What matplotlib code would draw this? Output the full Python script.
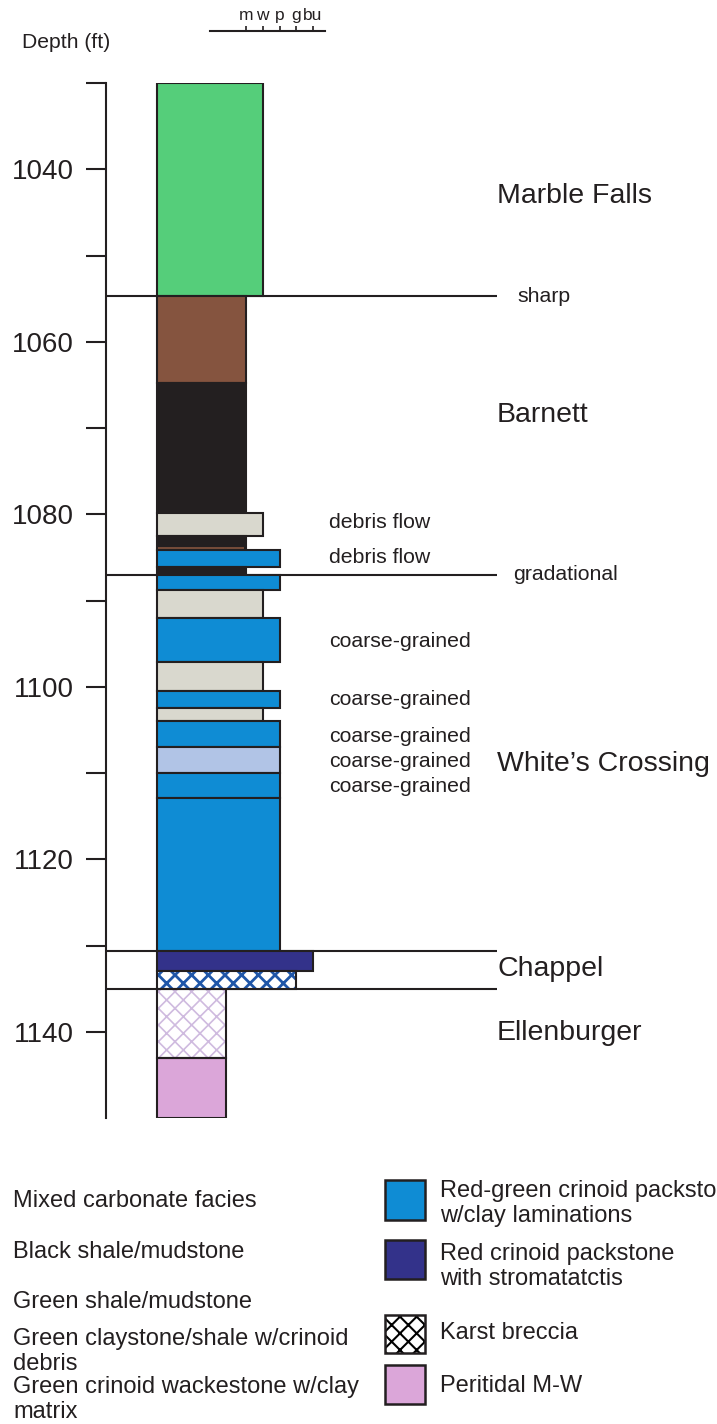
import matplotlib
matplotlib.use("Agg")
import matplotlib.pyplot as plt
from matplotlib.patches import Rectangle
from matplotlib.ticker import FixedLocator

plt.rcParams['font.family'] = ['Liberation Sans', 'DejaVu Sans']
plt.rcParams['hatch.linewidth'] = 1.5

INK = '#231F20'

# ---- data read off the section ----
# bed tops (ft); each bed runs down to the next top, last one to 1150
bed_top = [1030.0, 1054.7, 1064.8, 1079.9, 1082.5, 1084.2, 1086.1, 1087.0,
           1088.8, 1092.0, 1097.1, 1100.5, 1102.5, 1104.0, 1107.0, 1110.0,
           1112.9, 1130.6, 1132.9, 1135.0, 1143.0]
section_base = 1150.0
bed_facies = ['green', 'brown', 'black', 'claystone', 'black', 'packstone',
              'black', 'packstone', 'claystone', 'packstone', 'claystone',
              'packstone', 'claystone', 'packstone', 'wackestone', 'packstone',
              'packstone', 'red_pack', 'karst', 'ellen', 'peritidal']
# grain size (m=1, w=2, p=3, g=4, bu=5)
bed_grain = [2, 1, 1, 2, 1, 3, 1, 3, 2, 3, 2, 3, 2, 3, 3, 3, 3, 5, 4, -0.2, -0.2]

# thin brown seam inside the black shale
seam_depth = [1083.9]
seam_grain = [0.9]

grain_ticks = [1, 2, 3, 4, 5]
grain_labels = ['m', 'w', 'p', 'g', 'bu']

contact_depth = [1054.7, 1087.0, 1130.6, 1135.0]
contact_label = ['sharp', 'gradational', '', '']

formations = ['Marble Falls', 'Barnett', 'White\u2019s Crossing', 'Chappel', 'Ellenburger']
formation_depth = [1043.1, 1068.5, 1109.0, 1132.7, 1140.2]

notes = ['debris flow', 'debris flow', 'coarse-grained', 'coarse-grained',
         'coarse-grained', 'coarse-grained', 'coarse-grained']
note_depth = [1080.9, 1085.0, 1094.7, 1101.5, 1105.8, 1108.7, 1111.6]

legend_left = ['Mixed carbonate facies', 'Black shale/mudstone', 'Green shale/mudstone',
               'Green claystone/shale w/crinoid\ndebris',
               'Green crinoid wackestone w/clay\nmatrix']
legend_right = ['Red-green crinoid packstone\nw/clay laminations',
                'Red crinoid packstone\nwith stromatatctis',
                'Karst breccia', 'Peritidal M-W']
legend_right_facies = ['packstone', 'red_pack', 'karst_key', 'peritidal']

# facies -> (face, hatch, hatch colour, hatch width)
facies_style = {
    'green': ('#55CE7A', None, None, 0),
    'brown': ('#85543F', None, None, 0),
    'black': ('#231F20', None, None, 0),
    'claystone': ('#D9D8CE', None, None, 0),
    'packstone': ('#0F8CD4', None, None, 0),
    'wackestone': ('#B1C4E6', None, None, 0),
    'red_pack': ('#33328A', None, None, 0),
    'karst': ('white', 'xx', '#1F56A8', 2.0),
    'karst_key': ('white', 'xx', '#000000', 1.5),
    'ellen': ('white', 'xx', '#CFBBDF', 1.2),
    'peritidal': ('#DBA6D9', None, None, 0),
}

# ---- layout (pixels of the 717x1424 figure) ----
W, H = 717, 1424
PX_PER_GRAIN = 16.75
GRAIN1_PX = 246
COL_LEFT = -4.3


def px2g(px):
    return 1 + (px - GRAIN1_PX) / PX_PER_GRAIN


def draw_box(ax, x0, y0, w, h, fac, lw=1.5):
    face, hatch, hcol, hlw = facies_style[fac]
    if hatch:
        with plt.rc_context({'hatch.linewidth': hlw}):
            p = Rectangle((x0, y0), w, h, facecolor=face, edgecolor=hcol,
                          hatch=hatch, linewidth=0, zorder=2)
        ax.add_patch(p)
        ax.add_patch(Rectangle((x0, y0), w, h, fill=False, edgecolor=INK,
                               linewidth=lw, zorder=3))
    else:
        ax.add_patch(Rectangle((x0, y0), w, h, facecolor=face, edgecolor=INK,
                               linewidth=lw, zorder=2))


fig = plt.figure(figsize=(W / 100, H / 100), dpi=100)

ax_left, ax_top, ax_bot = 106, 83, 1118
ax = fig.add_axes([ax_left / W, (H - ax_bot) / H, (W - ax_left) / W, (ax_bot - ax_top) / H])
ax.set_xlim(px2g(ax_left), px2g(W))
ax.set_ylim(section_base, bed_top[0])
for s in ['top', 'right', 'bottom']:
    ax.spines[s].set_visible(False)
ax.spines['left'].set_linewidth(1.5)
ax.spines['left'].set_color(INK)
ax.set_xticks([])
ax.yaxis.set_major_locator(FixedLocator([1040, 1060, 1080, 1100, 1120, 1140]))
ax.yaxis.set_minor_locator(FixedLocator([1030, 1050, 1070, 1090, 1110, 1130]))
ax.tick_params(axis='y', which='both', length=14.5, width=1.5, color=INK,
               labelsize=20, labelcolor=INK, pad=8.5)

# beds
bed_base = bed_top[1:] + [section_base]
for top, base, fac, g in zip(bed_top, bed_base, bed_facies, bed_grain):
    draw_box(ax, COL_LEFT, top, g - COL_LEFT, base - top, fac)

for d, g in zip(seam_depth, seam_grain):
    ax.hlines(d, COL_LEFT + 0.05, g, color=facies_style['brown'][0], linewidth=1.2, zorder=4)

# contacts
for d in contact_depth:
    ax.hlines(d, px2g(ax_left), px2g(497), color=INK, linewidth=1.5, zorder=1)
for d, lab, xp in zip(contact_depth[:2], contact_label[:2], [517, 513]):
    ax.text(px2g(xp), d, lab, fontsize=15.3, color=INK, va='center', ha='left')

for name, d in zip(formations, formation_depth):
    ax.text(px2g(497), d, name, fontsize=20.5, color=INK, va='center', ha='left')

for t, d in zip(notes, note_depth):
    ax.text(px2g(329), d, t, fontsize=15.3, color=INK, va='center', ha='left')

# grain-size scale at the top
gx = fig.add_axes([210 / W, 1 - 31 / H, 115 / W, 0.0005])
gx.set_xlim(px2g(210), px2g(325))
gx.set_yticks([])
for s in ['top', 'right', 'left']:
    gx.spines[s].set_visible(False)
gx.spines['bottom'].set_linewidth(1.5)
gx.spines['bottom'].set_color(INK)
gx.set_xticks(grain_ticks)
gx.set_xticklabels(grain_labels)
gx.tick_params(axis='x', which='both', direction='in', length=3.6, width=1.2,
               color=INK, bottom=True, top=False, labelbottom=False,
               labeltop=True, labelsize=12.5, labelcolor=INK, pad=5)

fig.text(22 / W, 1 - 42 / H, 'Depth (ft)', fontsize=15.2, color=INK, va='center', ha='left')

# legend
lax = fig.add_axes([0, 0, 1, (H - 1150) / H])
lax.set_xlim(0, W)
lax.set_ylim(H, 1150)
lax.axis('off')

left_tops = [1190, 1241, 1291, 1328, 1376]
for lab, y in zip(legend_left, left_tops):
    lax.text(13, y, lab, fontsize=17, color=INK, va='top', ha='left', linespacing=1.2)

sw_tops = [1180, 1240, 1315, 1365]
sw_h = [40, 39, 38, 39]
txt_tops = [1180, 1243, 1322, 1375]
for lab, fac, sy, sh, ty in zip(legend_right, legend_right_facies, sw_tops, sw_h, txt_tops):
    draw_box(lax, 385, sy, 40, sh, fac, lw=1.8)
    lax.text(440, ty, lab, fontsize=17, color=INK, va='top', ha='left', linespacing=1.2)

fig.savefig('out.png', dpi=100)
